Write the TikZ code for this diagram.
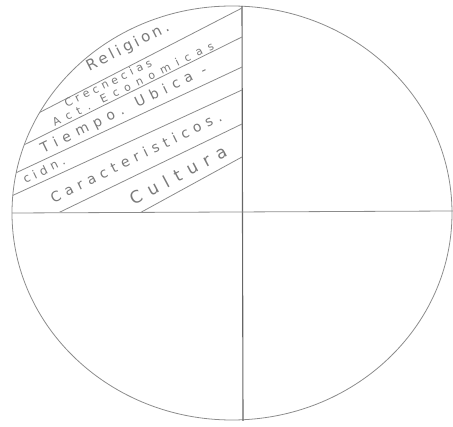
\documentclass[tikz,border=0pt]{standalone}
\usepackage{fontspec}
\setmainfont{DejaVu Sans}
\newcommand{\hw}[3]{{\fontsize{#1}{#1}\selectfont\addfontfeature{LetterSpace=#2}#3}}
\begin{document}
\begin{tikzpicture}[x=1pt,y=-1pt,
  pencil/.style={draw=black!45, line width=0.8pt},
  axisline/.style={draw=black!60, line width=1.1pt},
  lbl/.style={text=black!52, rotate=26, inner sep=0pt}]
\useasboundingbox (0,0) rectangle (453,427);
\coordinate (c) at (232,213);
% circle
\draw[pencil] (c) ellipse [x radius=220, y radius=207];
% axes
\coordinate (vt) at (242,6);
\coordinate (vb) at (243,421);
\coordinate (hl) at (12,213);
\coordinate (hr) at (453,211);
\draw[axisline] (vt) -- (vb);
\draw[pencil] (hl) -- (hr);
% diagonal band lines in upper-left quadrant
\begin{scope}
  \clip (c) ellipse [x radius=220, y radius=207];
  \clip (0,0) rectangle (242,212);
  \coordinate (a1) at (0,132.9);  \coordinate (b1) at (250,3.9);
  \coordinate (a2) at (0,156.8);  \coordinate (b2) at (250,33);
  \coordinate (a3) at (0,180.3);  \coordinate (b3) at (250,63.3);
  \coordinate (a4) at (0,201.3);  \coordinate (b4) at (250,86.3);
  \coordinate (a5) at (50,216.9); \coordinate (b5) at (250,120.1);
  \coordinate (a6) at (130,218.3);\coordinate (b6) at (250,152.6);
  \foreach \i in {1,...,6} \draw[pencil] (a\i) -- (b\i);
\end{scope}
% labels
\node[lbl, rotate=1] (t1) at (128,47) {\hw{15}{22}{Religion.}};
\node[lbl] (t2) at (108,83) {\hw{11}{36}{Crecnecias}};
\node[lbl] (t3) at (133,84) {\hw{11}{60}{Act.\hspace{12pt}Economicas}};
\node[lbl] (t4) at (124,110) {\hw{14}{42}{Tiempo. Ubica -}};
\node[lbl] (t5) at (44,170) {\hw{12}{34}{cidn.}};
\node[lbl] (t6) at (136,157) {\hw{14}{38}{Caracteristicos.}};
\node[lbl, rotate=2] (t7) at (178,175) {\hw{17}{44}{Cultura}};
\end{tikzpicture}
\end{document}
